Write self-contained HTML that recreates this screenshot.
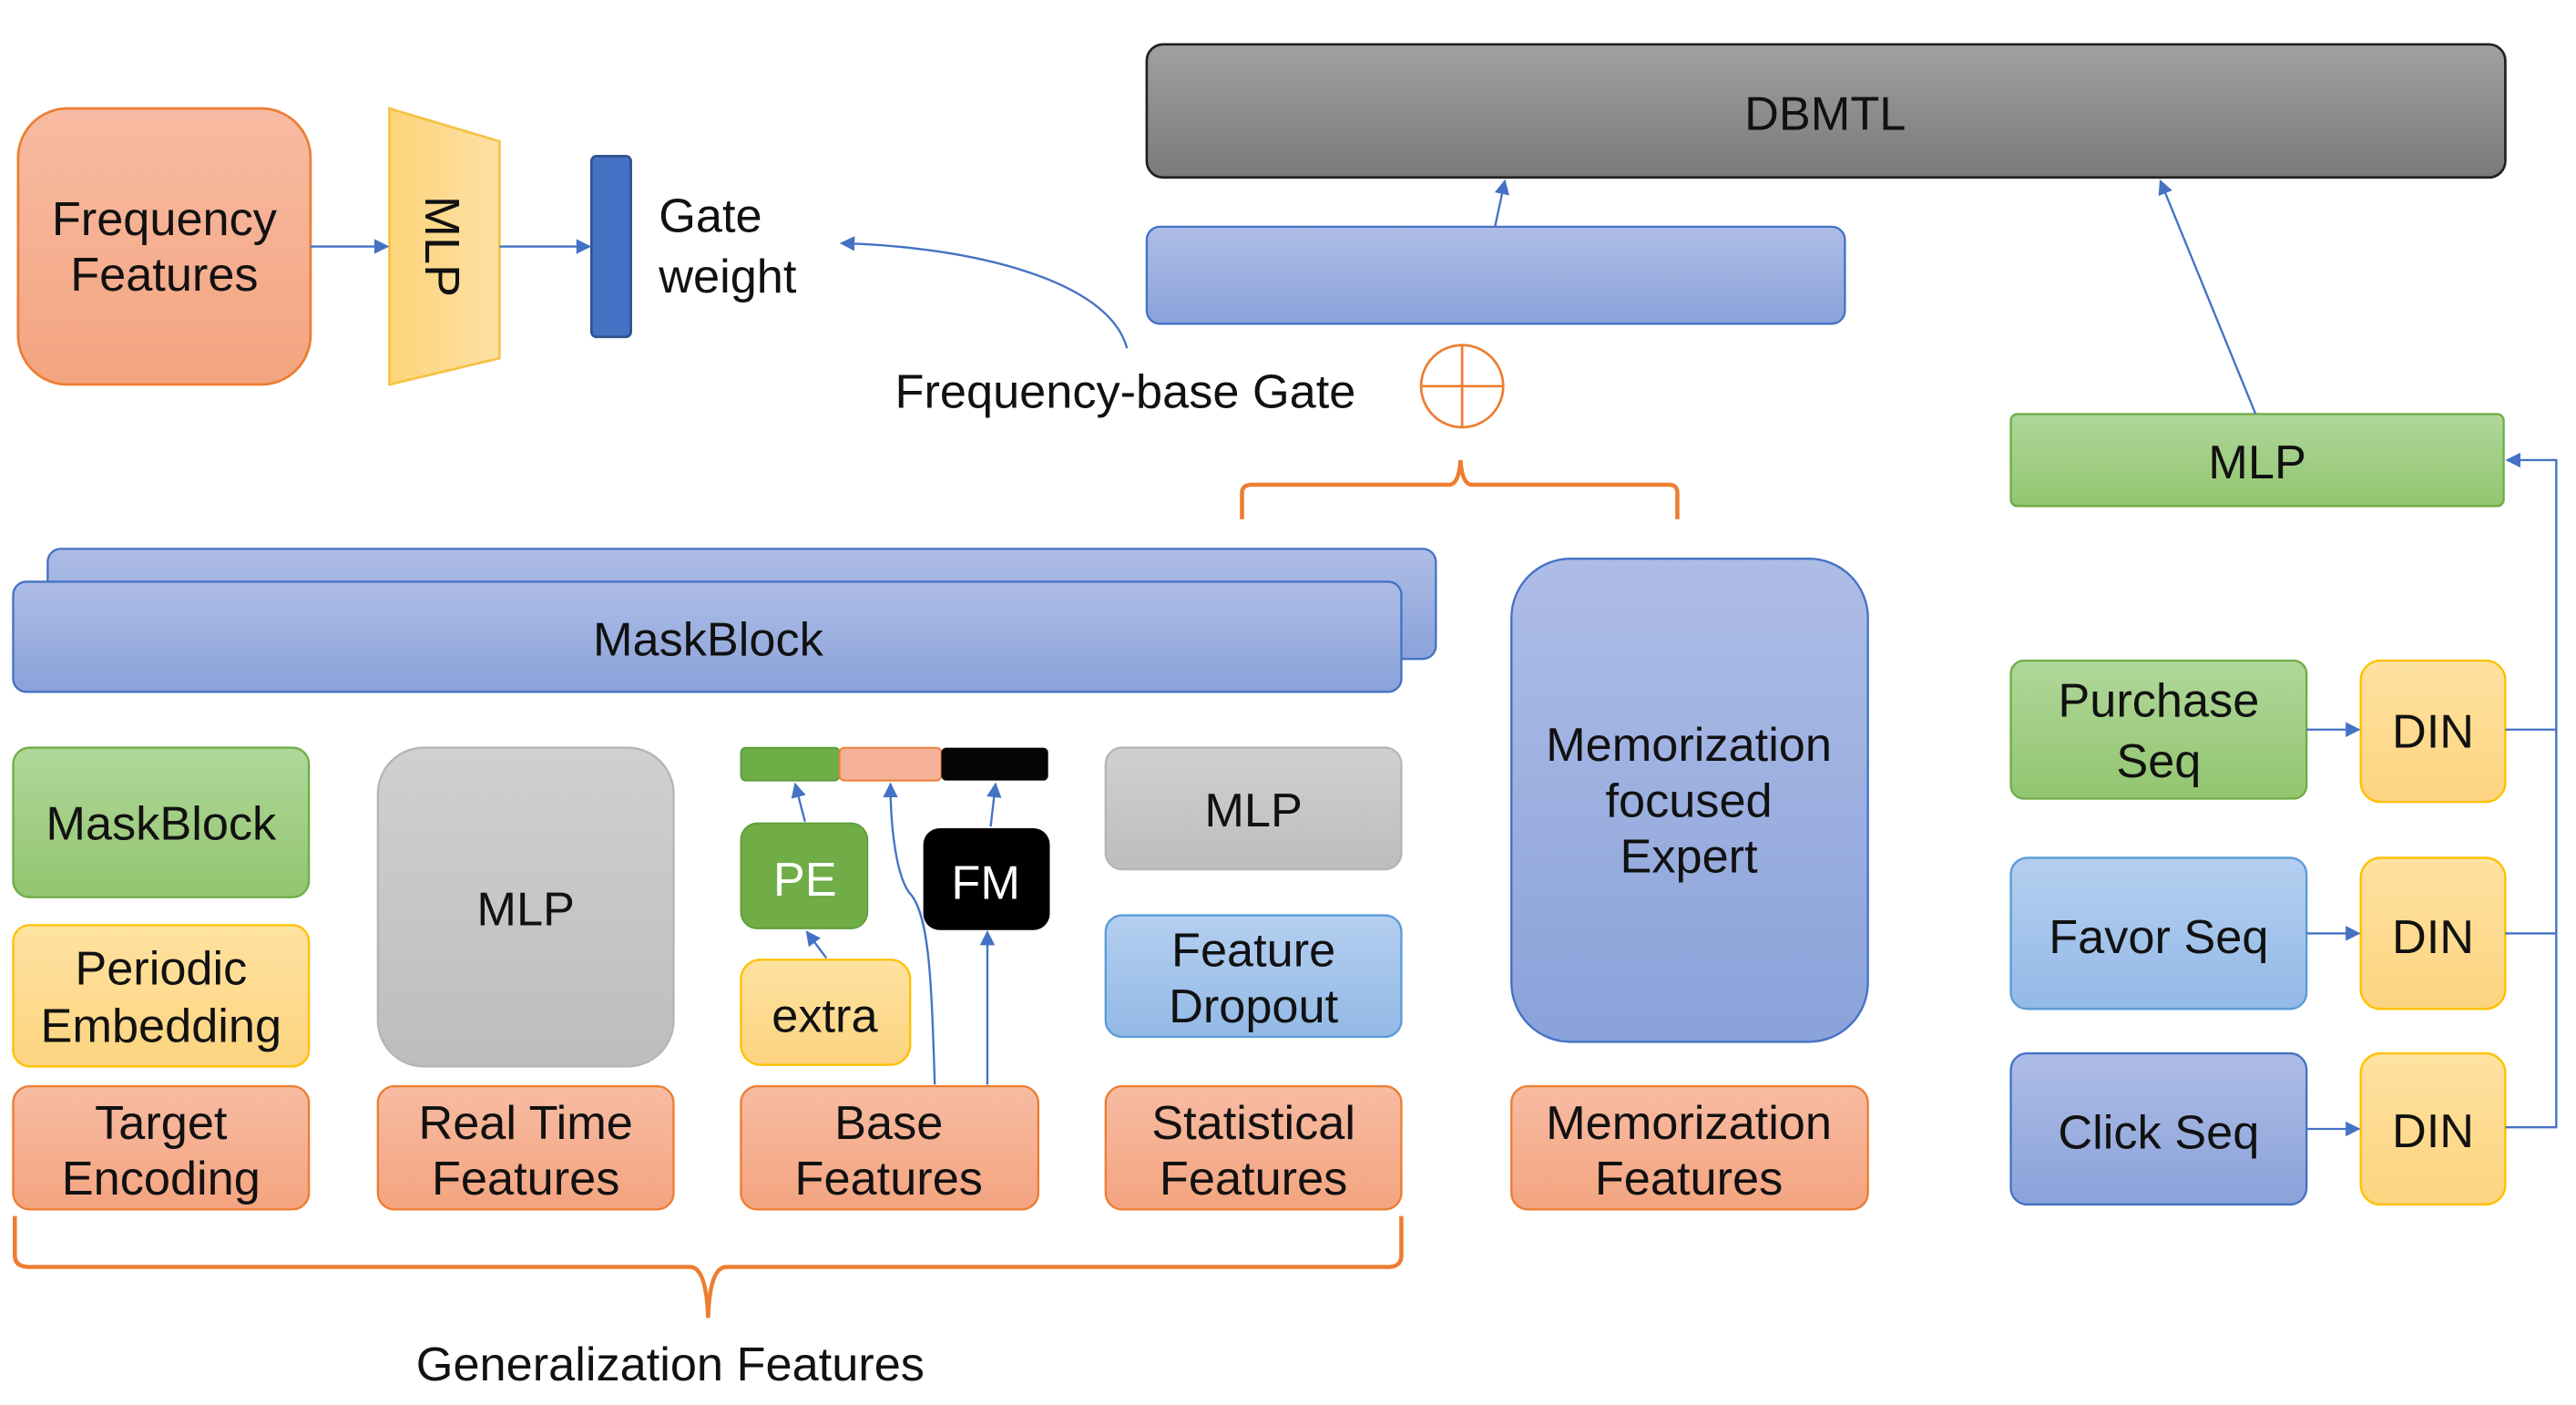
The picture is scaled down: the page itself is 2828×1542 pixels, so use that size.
<!DOCTYPE html>
<html><head><meta charset="utf-8"><style>
html,body{margin:0;padding:0;background:#fff;}
svg{display:block;}
text{font-family:"Liberation Sans","DejaVu Sans",sans-serif;fill:#111;}
</style></head><body>
<svg width="2828" height="1542" viewBox="0 0 1568 855" xmlns="http://www.w3.org/2000/svg">
<defs>
<linearGradient id="or" x1="0" y1="0" x2="0" y2="1"><stop offset="0" stop-color="#f7bba3"/><stop offset="1" stop-color="#f4a47f"/></linearGradient>
<linearGradient id="gr" x1="0" y1="0" x2="0" y2="1"><stop offset="0" stop-color="#b0d79a"/><stop offset="1" stop-color="#92c56f"/></linearGradient>
<linearGradient id="ye" x1="0" y1="0" x2="0" y2="1"><stop offset="0" stop-color="#fee2a0"/><stop offset="1" stop-color="#fdd480"/></linearGradient>
<linearGradient id="bl" x1="0" y1="0" x2="0" y2="1"><stop offset="0" stop-color="#aebde6"/><stop offset="1" stop-color="#8aa2da"/></linearGradient>
<linearGradient id="lb" x1="0" y1="0" x2="0" y2="1"><stop offset="0" stop-color="#b4cff0"/><stop offset="1" stop-color="#93b9e6"/></linearGradient>
<linearGradient id="db" x1="0" y1="0" x2="0" y2="1"><stop offset="0" stop-color="#a0a0a0"/><stop offset="1" stop-color="#7a7a7a"/></linearGradient>
<linearGradient id="gy" x1="0" y1="0" x2="0" y2="1"><stop offset="0" stop-color="#d0d0d0"/><stop offset="1" stop-color="#bdbdbd"/></linearGradient>
<linearGradient id="mlpy" x1="0" y1="0" x2="1" y2="0"><stop offset="0" stop-color="#fdd47a"/><stop offset="1" stop-color="#fde0a5"/></linearGradient>
<marker id="ar" viewBox="0 0 10 10" refX="9" refY="5" markerWidth="7" markerHeight="7" orient="auto"><path d="M0,0 L10,5 L0,10 z" fill="#4472c4"/></marker>
</defs>
<g font-size="29" text-anchor="middle">
<rect x="11" y="66" width="178" height="168" rx="30" fill="url(#or)" stroke="#ed7d31" stroke-width="1.5"/>
<text x="100" y="143">Frequency</text><text x="100" y="177">Features</text>
<polygon points="237,66 304,86 304,218 237,234" fill="url(#mlpy)" stroke="#f5c242" stroke-width="1.5"/>
<text x="0" y="0" transform="translate(259,150) rotate(90)" font-size="30">MLP</text>
<rect x="360" y="95" width="24" height="110" rx="3" fill="#4472c4" stroke="#2f528f" stroke-width="1.5"/>
<text x="401" y="141" text-anchor="start">Gate</text><text x="401" y="178" text-anchor="start">weight</text>
<line x1="189" y1="150" x2="236" y2="150" stroke="#4472c4" stroke-width="1.3" marker-end="url(#ar)"/>
<line x1="304" y1="150" x2="359" y2="150" stroke="#4472c4" stroke-width="1.3" marker-end="url(#ar)"/>
<path d="M686,212 C675,170 590,150 512,148" fill="none" stroke="#4472c4" stroke-width="1.3" marker-end="url(#ar)"/>
<text x="685" y="248">Frequency-base Gate</text>
<rect x="698" y="27" width="827" height="81" rx="10" fill="url(#db)" stroke="#222" stroke-width="1.5"/>
<text x="1111" y="79">DBMTL</text>
<rect x="698" y="138" width="425" height="59" rx="8" fill="url(#bl)" stroke="#4472c4" stroke-width="1.3"/>
<line x1="910" y1="138" x2="916" y2="110" stroke="#4472c4" stroke-width="1.3" marker-end="url(#ar)"/>
<circle cx="890" cy="235" r="25" fill="none" stroke="#ed7d31" stroke-width="1.5"/>
<line x1="865" y1="235" x2="915" y2="235" stroke="#ed7d31" stroke-width="1.5"/>
<line x1="890" y1="210" x2="890" y2="260" stroke="#ed7d31" stroke-width="1.5"/>
<path d="M756,316 L756,300 Q756,295 762,295 L882,295 Q888,295 889,280 Q890,295 896,295 L1016,295 Q1021,295 1021,300 L1021,316" fill="none" stroke="#ed7d31" stroke-width="2.5"/>
<rect x="1224" y="252" width="300" height="56" rx="4" fill="url(#gr)" stroke="#70ad47" stroke-width="1.3"/>
<text x="1374" y="291">MLP</text>
<line x1="1373" y1="252" x2="1315" y2="110" stroke="#4472c4" stroke-width="1.3" marker-end="url(#ar)"/>
<rect x="1224" y="402" width="180" height="84" rx="8" fill="url(#gr)" stroke="#70ad47" stroke-width="1.3"/>
<text x="1314" y="436">Purchase</text><text x="1314" y="473">Seq</text>
<rect x="1224" y="522" width="180" height="92" rx="10" fill="url(#lb)" stroke="#5b9bd5" stroke-width="1.3"/>
<text x="1314" y="580">Favor Seq</text>
<rect x="1224" y="641" width="180" height="92" rx="10" fill="url(#bl)" stroke="#4472c4" stroke-width="1.3"/>
<text x="1314" y="699">Click Seq</text>
<rect x="1437" y="402" width="88" height="86" rx="12" fill="url(#ye)" stroke="#ffc000" stroke-width="1.3"/>
<text x="1481" y="455">DIN</text>
<rect x="1437" y="522" width="88" height="92" rx="12" fill="url(#ye)" stroke="#ffc000" stroke-width="1.3"/>
<text x="1481" y="580">DIN</text>
<rect x="1437" y="641" width="88" height="92" rx="12" fill="url(#ye)" stroke="#ffc000" stroke-width="1.3"/>
<text x="1481" y="698">DIN</text>
<line x1="1404" y1="444" x2="1436" y2="444" stroke="#4472c4" stroke-width="1.3" marker-end="url(#ar)"/>
<line x1="1404" y1="568" x2="1436" y2="568" stroke="#4472c4" stroke-width="1.3" marker-end="url(#ar)"/>
<line x1="1404" y1="687" x2="1436" y2="687" stroke="#4472c4" stroke-width="1.3" marker-end="url(#ar)"/>
<path d="M1525,444 L1556,444 L1556,280 L1526,280" fill="none" stroke="#4472c4" stroke-width="1.3" marker-end="url(#ar)"/>
<path d="M1525,568 L1556,568 L1556,444" fill="none" stroke="#4472c4" stroke-width="1.3"/>
<path d="M1525,686 L1556,686 L1556,568" fill="none" stroke="#4472c4" stroke-width="1.3"/>
<rect x="920" y="340" width="217" height="294" rx="36" fill="url(#bl)" stroke="#4472c4" stroke-width="1.3"/>
<text x="1028" y="463">Memorization</text><text x="1028" y="497">focused</text><text x="1028" y="531">Expert</text>
<rect x="920" y="661" width="217" height="75" rx="10" fill="url(#or)" stroke="#ed7d31" stroke-width="1.3"/>
<text x="1028" y="693">Memorization</text><text x="1028" y="727">Features</text>
<rect x="29" y="334" width="845" height="67" rx="8" fill="url(#bl)" stroke="#4472c4" stroke-width="1.3"/>
<rect x="8" y="354" width="845" height="67" rx="8" fill="url(#bl)" stroke="#4472c4" stroke-width="1.3"/>
<text x="431" y="399">MaskBlock</text>
<rect x="8" y="455" width="180" height="91" rx="10" fill="url(#gr)" stroke="#70ad47" stroke-width="1.3"/>
<text x="98" y="511">MaskBlock</text>
<rect x="8" y="563" width="180" height="86" rx="10" fill="url(#ye)" stroke="#ffc000" stroke-width="1.3"/>
<text x="98" y="599">Periodic</text><text x="98" y="634">Embedding</text>
<rect x="8" y="661" width="180" height="75" rx="10" fill="url(#or)" stroke="#ed7d31" stroke-width="1.3"/>
<text x="98" y="693">Target</text><text x="98" y="727">Encoding</text>
<rect x="230" y="455" width="180" height="194" rx="28" fill="url(#gy)" stroke="#b5b5b5" stroke-width="1.3"/>
<text x="320" y="563">MLP</text>
<rect x="230" y="661" width="180" height="75" rx="10" fill="url(#or)" stroke="#ed7d31" stroke-width="1.3"/>
<text x="320" y="693">Real Time</text><text x="320" y="727">Features</text>
<rect x="451" y="455" width="60" height="20" rx="3" fill="#6fad47" stroke="#5a9a38" stroke-width="1"/>
<rect x="511" y="455" width="62" height="20" rx="3" fill="#f4b197" stroke="#ed7d31" stroke-width="1"/>
<rect x="573" y="455" width="65" height="20" rx="3" fill="#050505"/>
<rect x="451" y="501" width="77" height="64" rx="10" fill="#70ad47" stroke="#5f9d3a" stroke-width="1"/>
<text x="490" y="545" style="fill:#fff">PE</text>
<rect x="562" y="504" width="77" height="62" rx="10" fill="#000"/>
<text x="600" y="547" style="fill:#fff">FM</text>
<rect x="451" y="584" width="103" height="64" rx="12" fill="url(#ye)" stroke="#ffc000" stroke-width="1.3"/>
<text x="502" y="628">extra</text>
<rect x="451" y="661" width="181" height="75" rx="10" fill="url(#or)" stroke="#ed7d31" stroke-width="1.3"/>
<text x="541" y="693">Base</text><text x="541" y="727">Features</text>
<line x1="490" y1="500" x2="484" y2="477" stroke="#4472c4" stroke-width="1.3" marker-end="url(#ar)"/>
<line x1="503" y1="583" x2="491" y2="567" stroke="#4472c4" stroke-width="1.3" marker-end="url(#ar)"/>
<path d="M569,660 C567,600 566,560 555,545 C545,535 542,500 542,477" fill="none" stroke="#4472c4" stroke-width="1.3" marker-end="url(#ar)"/>
<line x1="601" y1="660" x2="601" y2="567" stroke="#4472c4" stroke-width="1.3" marker-end="url(#ar)"/>
<line x1="603" y1="503" x2="606" y2="477" stroke="#4472c4" stroke-width="1.3" marker-end="url(#ar)"/>
<rect x="673" y="455" width="180" height="74" rx="10" fill="url(#gy)" stroke="#b5b5b5" stroke-width="1.3"/>
<text x="763" y="503">MLP</text>
<rect x="673" y="557" width="180" height="74" rx="10" fill="url(#lb)" stroke="#5b9bd5" stroke-width="1.3"/>
<text x="763" y="588">Feature</text><text x="763" y="622">Dropout</text>
<rect x="673" y="661" width="180" height="75" rx="10" fill="url(#or)" stroke="#ed7d31" stroke-width="1.3"/>
<text x="763" y="693">Statistical</text><text x="763" y="727">Features</text>
<path d="M9,740 L9,764 Q9,771 18,771 L420,771 Q430,771 431,802 Q432,771 442,771 L845,771 Q853,771 853,764 L853,740" fill="none" stroke="#ed7d31" stroke-width="2.5"/>
<text x="408" y="840">Generalization Features</text>
</g>
</svg>
</body></html>
